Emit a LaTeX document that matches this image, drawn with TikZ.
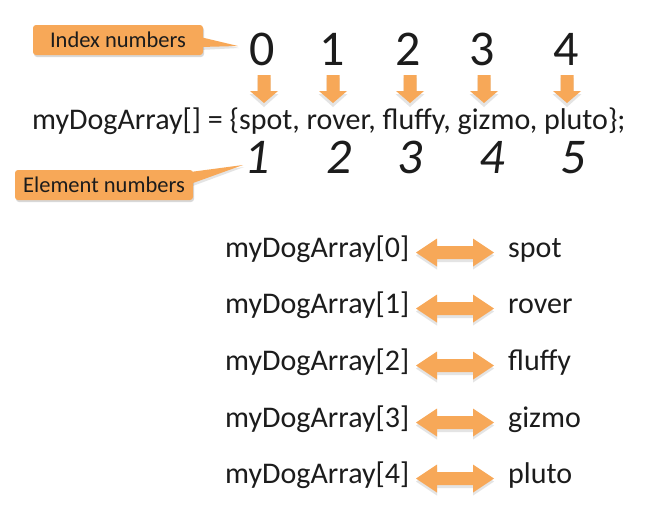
\documentclass[tikz,border=0pt]{standalone}
\usepackage{fontspec}
\setmainfont{Carlito}
\usetikzlibrary{shadows,calc}
\definecolor{orng}{RGB}{247,168,88}
\definecolor{txt}{RGB}{28,28,28}
\definecolor{bev}{RGB}{228,228,228}
\newcommand\dnarrow[1]{%
  \begin{scope}[shift={(#1,0)}]
    \fill[bev] (-6.5,78) -- (6.5,78) -- (6.5,94) -- (14.5,94) -- (0,107) -- (-14.5,94) -- (-6.5,94) -- cycle;
    \fill[orng] (-6.5,75) -- (6.5,75) -- (6.5,91) -- (14,91) -- (0,103) -- (-14,91) -- (-6.5,91) -- cycle;
  \end{scope}}
\newcommand\lrarrow[1]{%
  \begin{scope}[shift={(2,#1)}]
    \fill[bev] (414,3) -- (435,-11) -- (435,-3.5) -- (471,-3.5) -- (471,-11) -- (492,3) -- (471,17) -- (471,9.5) -- (435,9.5) -- (435,17) -- cycle;
    \fill[orng] (414,0) -- (435,-14) -- (435,-6.5) -- (471,-6.5) -- (471,-14) -- (492,0) -- (471,14) -- (471,6.5) -- (435,6.5) -- (435,14) -- cycle;
  \end{scope}}
\begin{document}
\begin{tikzpicture}[x=1pt,y=-1pt,
  callout/.style={fill=orng, rounded corners=3pt, minimum height=30pt, inner sep=0pt,
    text=txt, font=\fontsize{22.5}{26}\selectfont,
    drop shadow={shadow xshift=1pt, shadow yshift=-2pt, opacity=0.3}},
  dig/.style={text=txt, inner sep=0pt, anchor=base, font=\fontsize{50}{56}\selectfont},
  idig/.style={dig, font=\fontsize{50}{56}\selectfont\itshape},
  codeline/.style={text=txt, inner sep=0pt, anchor=base west, font=\fontsize{30}{35}\selectfont},
  wedge/.style={fill=orng},
  wedgeshadow/.style={fill=bev}]
\useasboundingbox[fill=white] (0,0) rectangle (652,507);

% top index digits
\foreach \d/\x in {0/262,1/332,2/408,3/482,4/566}{
  \node[dig] (i\d) at (\x,65) {\d};
}
% down arrows
\foreach \x in {264,333,410,484,567}{ \dnarrow{\x} }

% declaration line
\node[codeline] (decl) at (32,129) {myDogArray[] = \{spot, rover, fluffy, gizmo, pluto\};};

% element numbers
\foreach \d/\x in {1/257,2/339,3/410,4/492,5/573}{
  \node[idig] (e\d) at (\x,173) {\d};
}

% callouts
\coordinate (pidx) at (238,46);
\coordinate (pelm) at (243,165);
\fill[wedgeshadow] (200,39) -- ($(pidx)+(1,2)$) -- (200,50) -- cycle;
\node[callout, minimum width=170pt] (idx) at (118,40) {Index numbers};
\fill[wedge] ($(idx.east)+(-3,-3)$) -- (pidx) -- ($(idx.east)+(-3,7)$) -- cycle;

\fill[wedgeshadow] (190,174) -- ($(pelm)+(1,2)$) -- (190,187) -- cycle;
\node[callout, minimum width=178pt] (elm) at (104,185) {Element numbers};
\fill[wedge] ($(elm.east)+(-3,-13)$) -- (pelm) -- ($(elm.east)+(-3,-1)$) -- cycle;

% rows
\foreach \i/\n/\b in {0/spot/257,1/rover/313,2/fluffy/370,3/gizmo/427,4/pluto/483}{
  \node[codeline] (l\i) at (225,\b) {myDogArray[\i]};
  \node[codeline] (r\i) at (508,\b) {\n};
  \lrarrow{\b-4.5}
}
\end{tikzpicture}
\end{document}
